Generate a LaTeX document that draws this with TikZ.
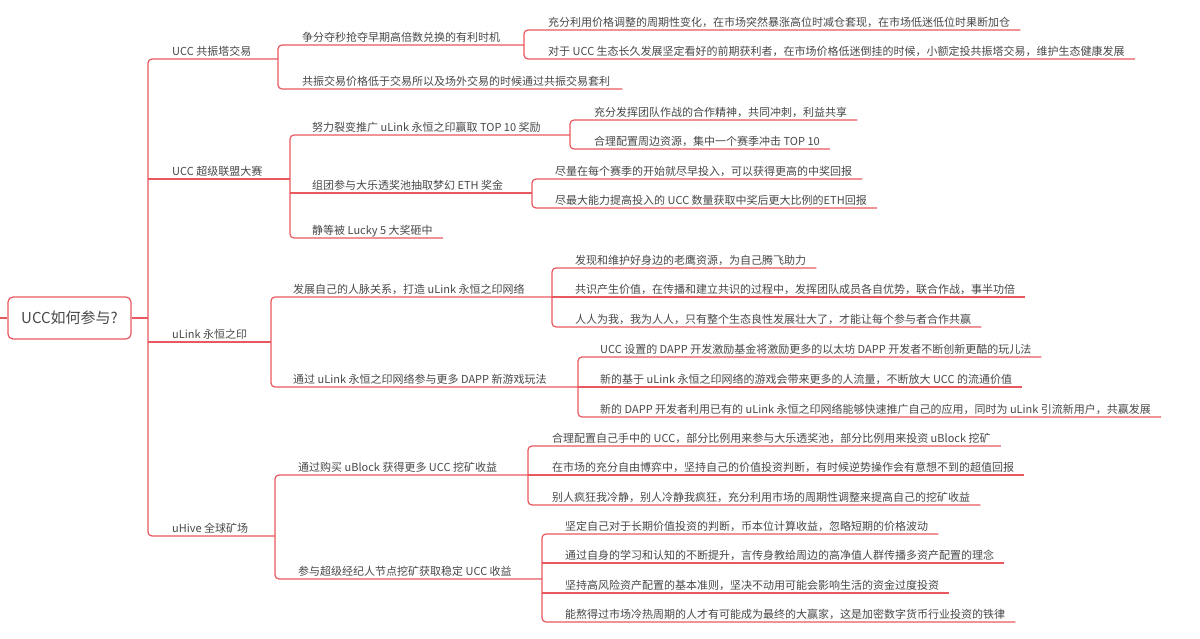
\documentclass[tikz,border=0pt]{standalone}
\usepackage{fontspec}
\setmainfont{Noto Sans CJK SC}
\usetikzlibrary{calc}
\definecolor{ln}{RGB}{232,88,94}
\definecolor{txt}{RGB}{72,72,72}
\begin{document}
\begin{tikzpicture}[x=1pt,y=-1pt,
  t/.style={font=\fontsize{11}{13}\selectfont, text=txt, anchor=south west,
    inner xsep=0pt, inner ysep=0pt, text height=9pt, text depth=3.5pt},
  lnk/.style={draw=ln, line width=1.2pt, rounded corners=4pt},
  rootbox/.style={draw=ln, line width=1.2pt, rounded corners=5pt, fill=white,
    minimum width=123pt, minimum height=42pt, inner sep=0pt,
    font=\fontsize{15}{18}\selectfont, text=txt}]
\useasboundingbox (0,0) rectangle (1200,639);

% root
\node[rootbox] (root) at (69.5,318) {UCC如何参与?};
\coordinate (stub) at (0,318);
\coordinate (tk) at (148,59);

% bracket coordinates
\coordinate (ak) at (278,45);
\coordinate (bk) at (290,135);
\coordinate (ck) at (271,297);
\coordinate (dk) at (275,475);
\coordinate (a1k) at (524,30);
\coordinate (b1k) at (570,120);
\coordinate (b2k) at (532,179);
\coordinate (c1k) at (552,268);
\coordinate (c2k) at (578,357);
\coordinate (d1k) at (528,446);
\coordinate (d2k) at (542,534);

% level 1
\node[t] (A) at (172,59) {UCC 共振塔交易};
\node[t] (B) at (172,179) {UCC 超级联盟大赛};
\node[t] (C) at (172,342) {uLink 永恒之印};
\node[t] (D) at (172,536) {uHive 全球矿场};

% level 2
\node[t] (A1) at (302,45) {争分夺秒抢夺早期高倍数兑换的有利时机};
\node[t] (A2) at (302,89) {共振交易价格低于交易所以及场外交易的时候通过共振交易套利};
\node[t] (B1) at (312,135) {努力裂变推广 uLink 永恒之印赢取 TOP 10 奖励};
\node[t] (B2) at (312,193) {组团参与大乐透奖池抽取梦幻 ETH 奖金};
\node[t] (B3) at (312,238) {静等被 Lucky 5 大奖砸中};
\node[t] (C1) at (293,297) {发展自己的人脉关系，打造 uLink 永恒之印网络};
\node[t] (C2) at (293,387) {通过 uLink 永恒之印网络参与更多 DAPP 新游戏玩法};
\node[t] (D1) at (298,475) {通过购买 uBlock 获得更多 UCC 挖矿收益};
\node[t] (D2) at (298,579) {参与超级经纪人节点挖矿获取稳定 UCC 收益};

% level 3
\node[t] (A1a) at (548,30) {充分利用价格调整的周期性变化，在市场突然暴涨高位时减仓套现，在市场低迷低位时果断加仓};
\node[t] (A1b) at (548,59) {对于 UCC 生态长久发展坚定看好的前期获利者，在市场价格低迷倒挂的时候，小额定投共振塔交易，维护生态健康发展};
\node[t] (B1a) at (594,120) {充分发挥团队作战的合作精神，共同冲刺，利益共享};
\node[t] (B1b) at (594,149) {合理配置周边资源，集中一个赛季冲击 TOP 10};
\node[t] (B2a) at (555,179) {尽量在每个赛季的开始就尽早投入，可以获得更高的中奖回报};
\node[t] (B2b) at (555,208) {尽最大能力提高投入的 UCC 数量获取中奖后更大比例的ETH回报};
\node[t] (C1a) at (575,268) {发现和维护好身边的老鹰资源，为自己腾飞助力};
\node[t] (C1b) at (575,297) {共识产生价值，在传播和建立共识的过程中，发挥团队成员各自优势，联合作战，事半功倍};
\node[t] (C1c) at (575,327) {人人为我，我为人人，只有整个生态良性发展壮大了，才能让每个参与者合作共赢};
\node[t] (C2a) at (600,357) {UCC 设置的 DAPP 开发激励基金将激励更多的以太坊 DAPP 开发者不断创新更酷的玩儿法};
\node[t] (C2b) at (600,387) {新的基于 uLink 永恒之印网络的游戏会带来更多的人流量，不断放大 UCC 的流通价值};
\node[t] (C2c) at (600,417) {新的 DAPP 开发者利用已有的 uLink 永恒之印网络能够快速推广自己的应用，同时为 uLink 引流新用户，共赢发展};
\node[t] (D1a) at (552,446) {合理配置自己手中的 UCC，部分比例用来参与大乐透奖池，部分比例用来投资 uBlock 挖矿};
\node[t] (D1b) at (552,475) {在市场的充分自由博弈中，坚持自己的价值投资判断，有时候逆势操作会有意想不到的超值回报};
\node[t] (D1c) at (552,505) {别人疯狂我冷静，别人冷静我疯狂，充分利用市场的周期性调整来提高自己的挖矿收益};
\node[t] (D2a) at (565,534) {坚定自己对于长期价值投资的判断，币本位计算收益，忽略短期的价格波动};
\node[t] (D2b) at (565,563) {通过自身的学习和认知的不断提升，言传身教给周边的高净值人群传播多资产配置的理念};
\node[t] (D2c) at (565,593) {坚持高风险资产配置的基本准则，坚决不动用可能会影响生活的资金过度投资};
\node[t] (D2d) at (565,622) {能熬得过市场冷热周期的人才有可能成为最终的大赢家，这是加密数字货币行业投资的铁律};

% root connectors
\draw[lnk] (stub) -- (root.west);
\draw[lnk] (root.east) -- (tk |- root.east);

% trunk
\draw[lnk] (ak |- A.south) -- (tk |- A.south) -- (tk |- D.south) -- (dk |- D.south);
\draw[lnk] (tk |- B.south) -- (bk |- B.south);
\draw[lnk] (tk |- C.south) -- (ck |- C.south);

% A bracket
\draw[lnk] (a1k |- A1.south) -- (ak |- A1.south) -- (ak |- A2.south) -- ($(A2.south east)+(12,0)$);
% B bracket
\draw[lnk] (b1k |- B1.south) -- (bk |- B1.south) -- (bk |- B3.south) -- ($(B3.south east)+(10,0)$);
\draw[lnk] (bk |- B2.south) -- (b2k |- B2.south);
% C bracket
\draw[lnk] (c1k |- C1.south) -- (ck |- C1.south) -- (ck |- C2.south) -- (c2k |- C2.south);
% D bracket
\draw[lnk] (d1k |- D1.south) -- (dk |- D1.south) -- (dk |- D2.south) -- (d2k |- D2.south);

% A1 children
\draw[lnk] ($(A1a.south east)+(10,0)$) -- (a1k |- A1a.south) -- (a1k |- A1b.south) -- ($(A1b.south east)+(10,0)$);
% B1 children
\draw[lnk] ($(B1a.south east)+(10,0)$) -- (b1k |- B1a.south) -- (b1k |- B1b.south) -- ($(B1b.south east)+(10,0)$);
% B2 children
\draw[lnk] ($(B2a.south east)+(10,0)$) -- (b2k |- B2a.south) -- (b2k |- B2b.south) -- ($(B2b.south east)+(10,0)$);
% C1 children
\draw[lnk] ($(C1a.south east)+(10,0)$) -- (c1k |- C1a.south) -- (c1k |- C1c.south) -- ($(C1c.south east)+(10,0)$);
\draw[lnk] (c1k |- C1b.south) -- ($(C1b.south east)+(10,0)$);
% C2 children
\draw[lnk] ($(C2a.south east)+(10,0)$) -- (c2k |- C2a.south) -- (c2k |- C2c.south) -- ($(C2c.south east)+(10,0)$);
\draw[lnk] (c2k |- C2b.south) -- ($(C2b.south east)+(10,0)$);
% D1 children
\draw[lnk] ($(D1a.south east)+(10,0)$) -- (d1k |- D1a.south) -- (d1k |- D1c.south) -- ($(D1c.south east)+(10,0)$);
\draw[lnk] (d1k |- D1b.south) -- ($(D1b.south east)+(10,0)$);
% D2 children
\draw[lnk] ($(D2a.south east)+(10,0)$) -- (d2k |- D2a.south) -- (d2k |- D2d.south) -- ($(D2d.south east)+(10,0)$);
\draw[lnk] (d2k |- D2b.south) -- ($(D2b.south east)+(10,0)$);
\draw[lnk] (d2k |- D2c.south) -- ($(D2c.south east)+(10,0)$);
\end{tikzpicture}
\end{document}
